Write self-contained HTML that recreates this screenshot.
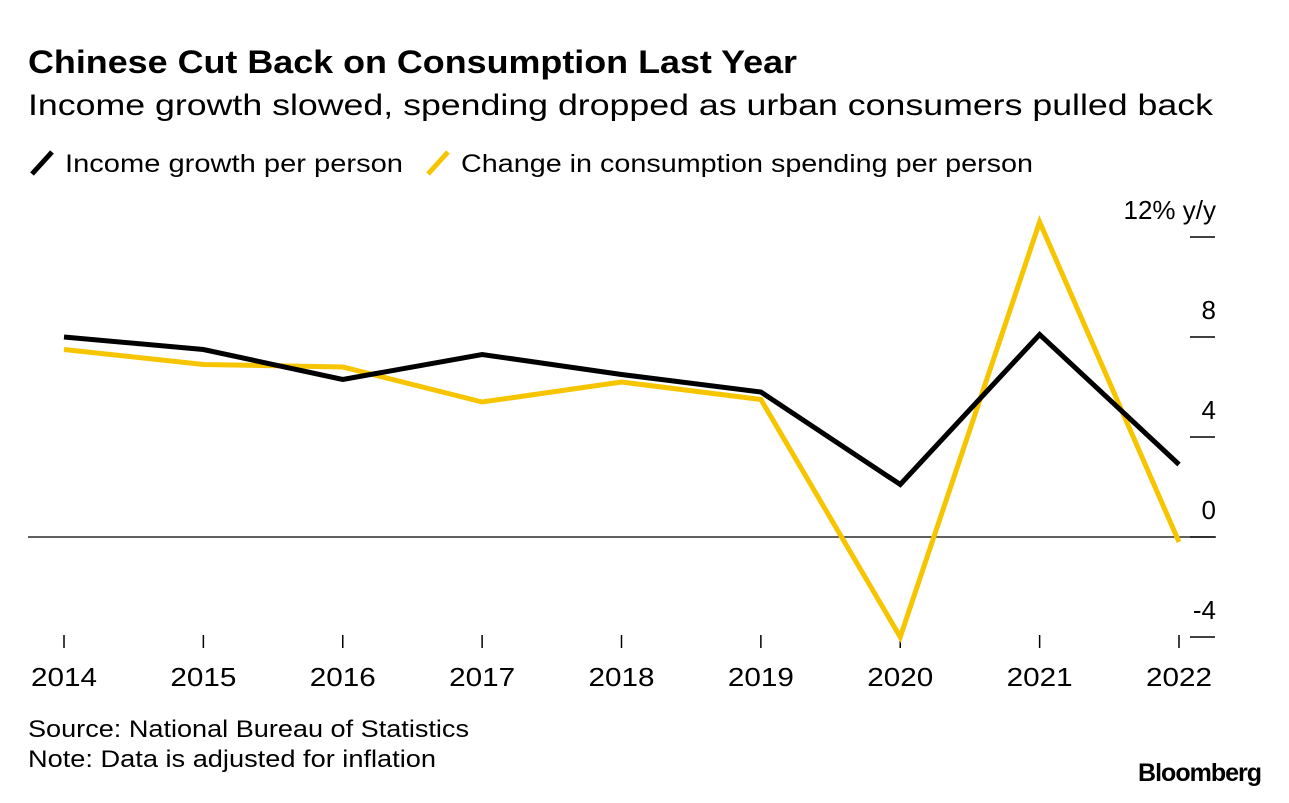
<!DOCTYPE html>
<html><head><meta charset="utf-8"><style>
body{margin:0;background:#fff;width:1289px;height:798px;overflow:hidden;font-family:"Liberation Sans",sans-serif;}
svg text{font-family:"Liberation Sans",sans-serif;}
</style></head><body>
<svg id="chart" width="1289" height="798">
<text x="28" y="73" font-size="32" font-weight="bold" fill="#000" textLength="769" lengthAdjust="spacingAndGlyphs">Chinese Cut Back on Consumption Last Year</text>
<text x="28" y="115" font-size="30" fill="#000" textLength="1185" lengthAdjust="spacingAndGlyphs">Income growth slowed, spending dropped as urban consumers pulled back</text>
<g>
<line x1="32" y1="174" x2="52" y2="152" stroke="#000" stroke-width="5"/>
<text x="65" y="172" font-size="25" textLength="338" lengthAdjust="spacingAndGlyphs">Income growth per person</text>
<line x1="428" y1="174" x2="448" y2="152" stroke="#f7c500" stroke-width="5"/>
<text x="461" y="172" font-size="25" textLength="572" lengthAdjust="spacingAndGlyphs">Change in consumption spending per person</text>
</g>
<g id="axes"></g>
<g id="series"></g>
<text x="28" y="737" font-size="24" textLength="441" lengthAdjust="spacingAndGlyphs">Source: National Bureau of Statistics</text>
<text x="28" y="767" font-size="24" textLength="408" lengthAdjust="spacingAndGlyphs">Note: Data is adjusted for inflation</text>
<text x="1261" y="781" font-size="25" font-weight="bold" text-anchor="end" letter-spacing="-1">Bloomberg</text>
</svg>
<script>
const years = ["2014","2015","2016","2017","2018","2019","2020","2021","2022"];
const income = [8.0, 7.5, 6.3, 7.3, 6.5, 5.8, 2.1, 8.1, 2.9];
const consumption = [7.5, 6.9, 6.8, 5.4, 6.2, 5.5, -4.0, 12.6, -0.2];
const yTicks = [12, 8, 4, 0, -4];
const yTickLabels = ["12% y/y", "8", "4", "0", "-4"];

const NS = "http://www.w3.org/2000/svg";
const x = i => 64 + i * (1179 - 64) / 8;
const y = v => 537 - 25 * v;
const axes = document.getElementById("axes");
const series = document.getElementById("series");
function mk(tag, attrs, parent) {
  const e = document.createElementNS(NS, tag);
  for (const k in attrs) e.setAttribute(k, attrs[k]);
  parent.appendChild(e);
  return e;
}
const zero = mk("line", {x1: 28, x2: 1216, y1: y(0), y2: y(0), stroke: "#000", "stroke-width": 1.2}, axes);


yTicks.forEach((v, i) => {
  const t = mk("line", {x1: 1190, x2: 1215, y1: y(v), y2: y(v), stroke: "#000", "stroke-width": 1.5}, axes);
  
  
  const l = mk("text", {x: 1216, y: y(v) - 18, "font-size": 26, "text-anchor": "end"}, axes);
  l.textContent = yTickLabels[i];
  
  
});
years.forEach((yr, i) => {
  const t = mk("line", {x1: x(i), x2: x(i), y1: 635, y2: 648, stroke: "#000", "stroke-width": 1.5}, axes);
  
  
  const l = mk("text", {x: x(i), y: 686, "font-size": 26, "text-anchor": "middle", textLength: 66, lengthAdjust: "spacingAndGlyphs"}, axes);
  l.textContent = yr;
  
  
});
function line(vals, color, name) {
  const p = mk("polyline", {points: vals.map((v, i) => x(i) + "," + y(v)).join(" "), fill: "none", stroke: color, "stroke-width": 5, "stroke-linejoin": "miter"}, series);
  
  
}
line(consumption, "#f7c500", "consumption-line");
line(income, "#000", "income-line");
</script>
</body></html>
